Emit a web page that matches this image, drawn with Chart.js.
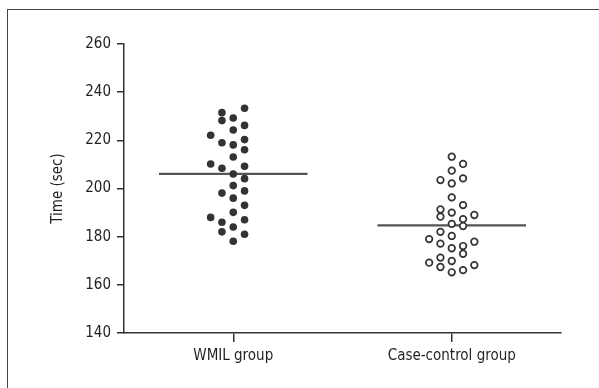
<!DOCTYPE html>
<html>
<head>
<meta charset="utf-8">
<script src="https://cdn.jsdelivr.net/npm/chart.js@4/dist/chart.umd.min.js"></script>
<style>
html,body{margin:0;padding:0;background:#fff;}
#wrap{position:relative;width:599px;height:388px;}
#frame{position:absolute;left:7px;top:9px;right:0;bottom:0;border-top:1px solid #444;border-left:1px solid #444;pointer-events:none;}
canvas{position:absolute;left:0;top:0;}
</style>
</head>
<body>
<div id="wrap"><div id="frame"></div><canvas id="c" width="599" height="388"></canvas></div>
<script>
// Categories and tick labels
const categories = ["WMIL group", "Case-control group"];
const yTicks = [140, 160, 180, 200, 220, 240, 260];

// WMIL group: times (sec) and beeswarm column index
const wmilTimes = [233.3,231.5,228.2,229.3,224.3,226.2,222.1,219.0,218.1,220.3,216.1,213.1,210.2,208.4,209.2,206.0,204.1,201.2,198.1,199.0,196.0,193.0,190.1,188.0,186.0,187.0,182.0,184.0,181.0,178.1];
const wmilCols  = [1,-1,-1,0,0,1,-2,-1,0,1,1,0,-2,-1,1,0,1,0,-1,1,0,1,0,-2,-1,1,-1,0,1,0];

// Case-control group: times (sec) and beeswarm column index
const controlTimes = [213.2,210.2,207.4,203.5,202.1,204.2,196.3,193.1,191.3,188.3,190.0,187.3,189.0,185.3,184.4,182.0,180.3,179.0,177.1,175.2,176.1,172.9,177.9,171.3,169.2,167.4,169.9,165.2,166.1,168.2];
const controlCols  = [0,1,0,-1,0,1,0,1,-1,-1,0,1,2,0,1,-1,0,-2,-1,0,1,1,2,-1,-2,-1,0,0,1,2];

// Group means (horizontal lines)
const groupMeans = [206.1, 184.7];

const COL_STEP = 0.0517;   // horizontal spacing of swarm columns (x units)
const MEAN_HALF = 0.34;    // half-width of mean line (x units)

function swarm(times, cols, catIdx) {
  return times.map((t, i) => ({ x: catIdx + 1 + cols[i] * COL_STEP, y: t }));
}
function meanLine(catIdx) {
  return [{ x: catIdx + 1 - MEAN_HALF, y: groupMeans[catIdx] }, { x: catIdx + 1 + MEAN_HALF, y: groupMeans[catIdx] }];
}

const FONT = "'Liberation Sans Narrow', 'DejaVu Sans Condensed', 'Arial Narrow', sans-serif";
const INK = '#231f20';
const FS = 15;

new Chart(document.getElementById('c'), {
  type: 'scatter',
  data: {
    datasets: [
      { data: meanLine(0), type: 'line', borderColor: '#555', borderWidth: 2.2, pointRadius: 0, order: 2 },
      { data: meanLine(1), type: 'line', borderColor: '#555', borderWidth: 2.2, pointRadius: 0, order: 2 },
      { data: swarm(wmilTimes, wmilCols, 0), backgroundColor: '#333', borderColor: '#333', borderWidth: 0, pointRadius: 3.8, order: 1 },
      { data: swarm(controlTimes, controlCols, 1), backgroundColor: '#fff', borderColor: '#333', borderWidth: 1.7, pointRadius: 3.3, order: 1 }
    ]
  },
  options: {
    responsive: false,
    animation: false,
    events: [],
    layout: { padding: { left: 0, right: 38, top: 44, bottom: 0 } },
    plugins: { legend: { display: false }, tooltip: { enabled: false } },
    scales: {
      x: {
        type: 'linear',
        min: 0.5, max: 2.5,
        afterBuildTicks: s => { s.ticks = categories.map((c, i) => ({ value: i + 1 })); },
        afterFit: s => { s.height = 55; },
        ticks: { callback: (v) => categories[Math.round(v) - 1] || '', font: { family: FONT, size: FS }, color: INK, padding: 5, maxRotation: 0, autoSkip: false },
        grid: { display: true, drawOnChartArea: false, drawTicks: true, tickLength: 9, color: '#333', lineWidth: 1.5 },
        border: { display: true, color: '#333', width: 1.5 }
      },
      y: {
        min: 140, max: 260,
        afterBuildTicks: s => { s.ticks = yTicks.map(v => ({ value: v })); },
        afterFit: s => { s.width = 124; },
        ticks: { font: { family: FONT, size: FS }, color: INK, padding: 6 },
        grid: { display: true, drawOnChartArea: false, drawTicks: true, tickLength: 7, color: '#333', lineWidth: 1.5 },
        border: { display: true, color: '#333', width: 1.5 },
        title: { display: true, text: 'Time (sec)', font: { family: FONT, size: FS }, color: INK, padding: { top: 49, bottom: 0 } }
      }
    }
  }
});
</script>
</body>
</html>
